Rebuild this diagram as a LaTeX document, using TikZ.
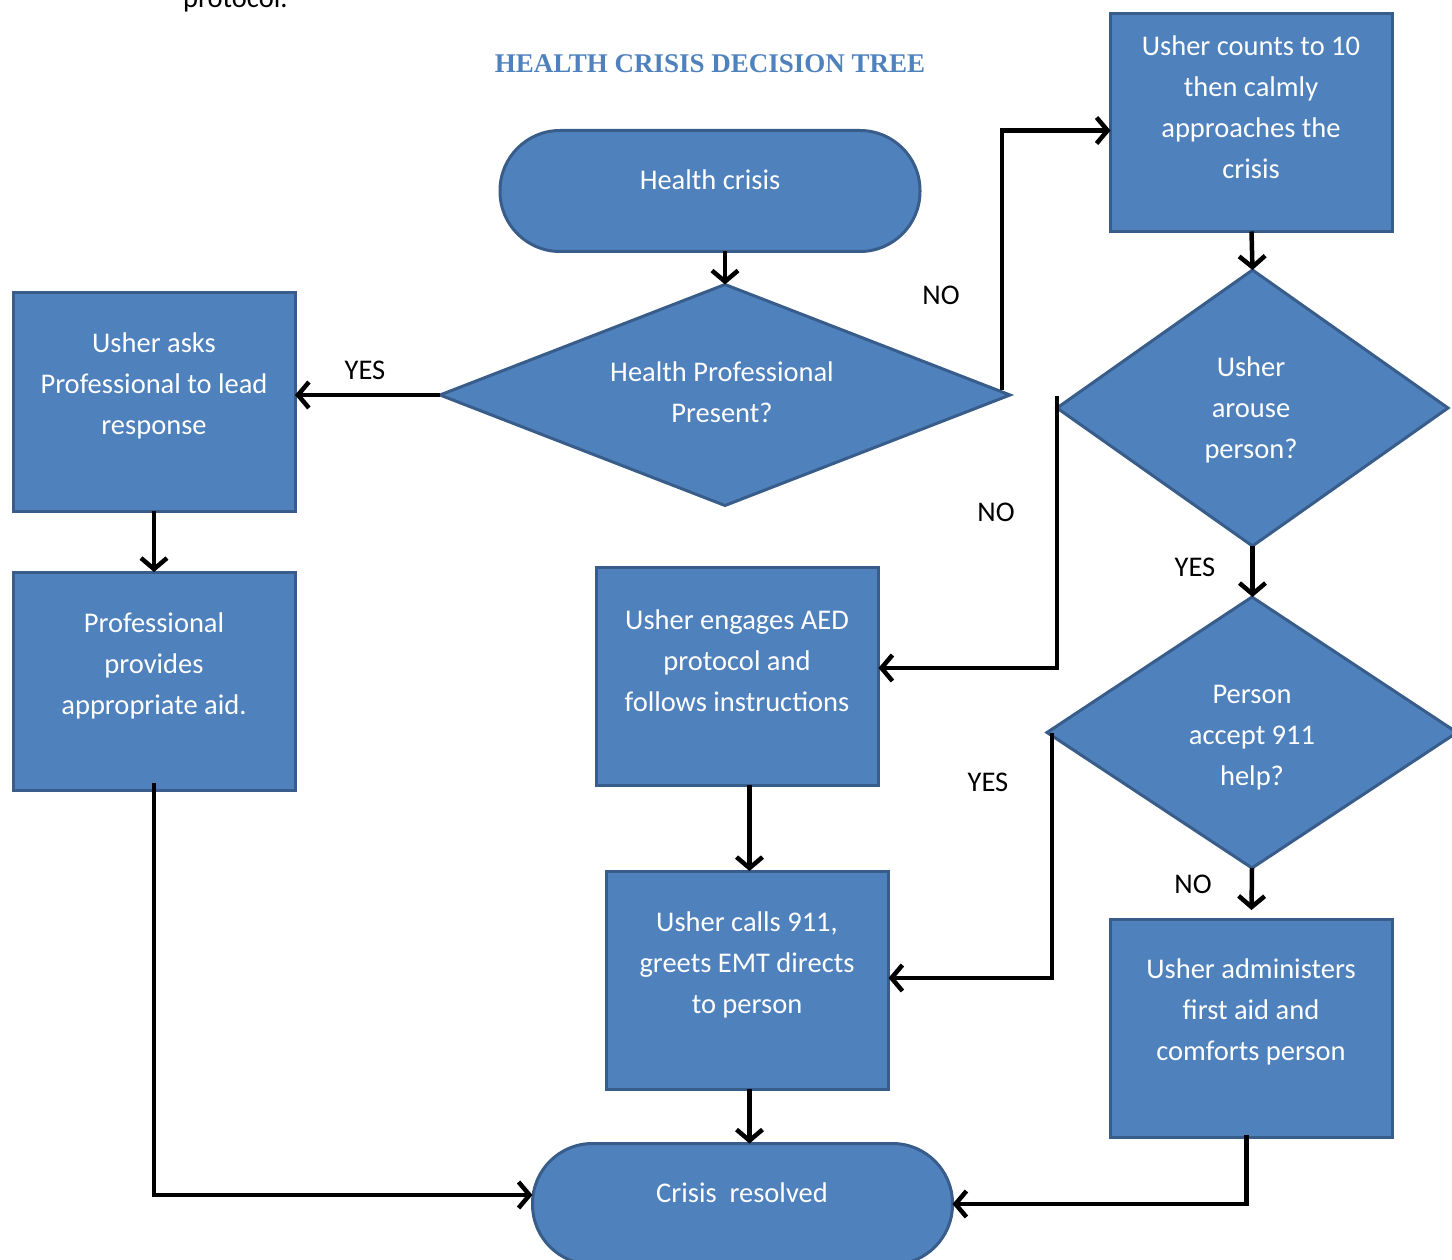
\documentclass[tikz,border=0pt]{standalone}
\usepackage{fontspec}
\setmainfont{Carlito}
\newfontfamily\titlefont{Liberation Serif}
\usetikzlibrary{shapes.geometric,arrows.meta}
\definecolor{fillblue}{HTML}{4F81BD}
\definecolor{edgeblue}{HTML}{385D8A}
\begin{document}
\begin{tikzpicture}[x=1pt,y=-1pt,
 box/.style={draw=edgeblue, fill=fillblue, line width=3pt, rectangle, minimum width=282pt, minimum height=218pt, inner sep=0pt, outer sep=0pt},
 term/.style={draw=edgeblue, fill=fillblue, line width=3pt, rectangle, rounded corners=60pt, minimum width=420pt, minimum height=121pt, inner sep=0pt, outer sep=0pt},
 dec/.style={draw=edgeblue, fill=fillblue, line width=3pt, diamond, inner sep=0pt, outer sep=0pt},
 txt/.style={text=white, align=center, font=\fontsize{28.5}{41}\selectfont, inner sep=0pt},
 lbl/.style={font=\fontsize{28.5}{34}\selectfont, inner sep=0pt},
 conn/.style={line width=4.5pt, -{Straight Barb[length=11pt,width=26pt]}},
]
\useasboundingbox (0,0) rectangle (1452,1260);
\clip (0,0) rectangle (1452,1260);

% cut-off text at top
\node[lbl, anchor=base west] (prot) at (183,8) {protocol.};

% title
\node[font=\titlefont\bfseries\fontsize{27}{30}\selectfont, text=fillblue, inner sep=0pt] (title) at (710,64) {HEALTH CRISIS DECISION TREE};

% shapes
\node[term] (hc) at (710,191) {};
\node[txt] (hct) at (710,180) {Health crisis};

\node[dec, minimum width=570pt, minimum height=221pt] (d1) at (725,395) {};
\node[txt] (d1t) at (722,392) {Health Professional\\Present?};

\node[box] (b3) at (154,402) {};
\node[txt] (b3t) at (154,386) {Usher asks\\Professional to lead\\response};

\node[box] (b4) at (154,681) {};
\node[txt] (b4t) at (154,666) {Professional\\provides\\appropriate aid.};

\node[box] (b5) at (1251.5,122.5) {};
\node[txt] (b5t) at (1251,107) {Usher counts to 10\\then calmly\\approaches the\\crisis};

\node[dec, minimum width=391pt, minimum height=276pt] (d6) at (1252.5,408) {};
\node[txt] (d6t) at (1251,410) {Usher\\arouse\\person?};

\node[dec, minimum width=410pt, minimum height=271pt] (d7) at (1252,732.5) {};
\node[txt] (d7t) at (1252,738) {Person\\accept 911\\help?};

\node[box] (b8) at (737.5,676) {};
\node[txt] (b8t) at (737,661) {Usher engages AED\\protocol and\\follows instructions};

\node[box] (b9) at (747.5,980) {};
\node[txt] (b9t) at (747,965) {Usher calls 911,\\greets EMT directs\\to person};

\node[box] (b10) at (1251.5,1028) {};
\node[txt] (b10t) at (1251,1012) {Usher administers\\first aid and\\comforts person};

\node[term] (cr) at (742.5,1204) {};
\node[txt] (crt) at (742,1193) {Crisis\ \ resolved};

% labels
\node[lbl] (l1) at (365,370) {YES};
\node[lbl] (l2) at (941,295) {NO};
\node[lbl] (l3) at (996,512) {NO};
\node[lbl] (l4) at (1195,567) {YES};
\node[lbl] (l5) at (988,782) {YES};
\node[lbl] (l6) at (1193,884) {NO};

% connectors
\draw[conn] (d1.north |- hc.south) -- (d1.north);
\draw[conn] (d1.west) -- (d1.west -| b3.east);
\draw[conn] (b3.south) -- (b4.north);
\draw[conn] ([yshift=7pt]b4.south) |- ([yshift=9pt]cr.west);
\draw[conn] ([xshift=-8pt,yshift=5pt]d1.east) |- ([yshift=-8pt]b5.west);
\draw[conn] (b5.south) -- (d6.north);
\draw[conn] ([yshift=12pt]d6.west) |- ([yshift=8pt]b8.east);
\draw[conn] (d6.south) -- (d6.south |- d7.north);
\draw[conn] ([xshift=5pt]d7.west) |- ([yshift=2pt]b9.east);
\draw[conn] (d7.south) -- ([yshift=9pt]b10.north);
\draw[conn] ([xshift=12pt]b8.south) -- ([xshift=12pt]b8.south |- b9.north);
\draw[conn] ([xshift=2pt]b9.south) -- ([xshift=2pt]b9.south |- cr.north);
\draw[conn] ([xshift=-5pt,yshift=2pt]b10.south) |- (cr.east);
\end{tikzpicture}
\end{document}
